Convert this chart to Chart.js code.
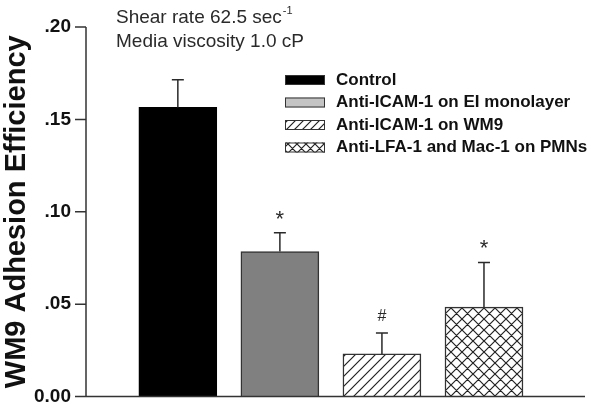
<!DOCTYPE html>
<html>
<head>
<meta charset="utf-8">
<script src="https://cdn.jsdelivr.net/npm/chart.js@4.4.1/dist/chart.umd.min.js"></script>
<style>
    html, body { margin: 0; padding: 0; background: #fff; }
    #wrap { width: 601px; height: 412px; position: relative; }
</style>
</head>
<body>
<div id="wrap"><canvas id="chart"></canvas></div>
<script>
// data
const groups = ['Control', 'Anti-ICAM-1 on EI monolayer', 'Anti-ICAM-1 on WM9', 'Anti-LFA-1 and Mac-1 on PMNs'];
const means = [0.1565, 0.0785, 0.0231, 0.0484];
const errors = [0.0150, 0.0102, 0.0113, 0.0242];
const marks = ['', '*', '#', '*'];
const yTicks = [0, 0.05, 0.10, 0.15, 0.20];

const ink = '#2a2a2a';
const font = '"Liberation Sans", Arial, sans-serif';

function makePattern(size, cross) {
    const c = document.createElement('canvas');
    c.width = size;
    c.height = size;
    const g = c.getContext('2d');
    g.fillStyle = '#fff';
    g.fillRect(0, 0, size, size);
    g.strokeStyle = '#222';
    g.lineWidth = 1.2;
    g.beginPath();
    g.moveTo(-1, size + 1); g.lineTo(size + 1, -1);
    g.moveTo(-1, 1); g.lineTo(1, -1);
    g.moveTo(size - 1, size + 1); g.lineTo(size + 1, size - 1);
    if (cross) {
        g.moveTo(-1, -1); g.lineTo(size + 1, size + 1);
        g.moveTo(size - 1, -1); g.lineTo(size + 1, 1);
        g.moveTo(-1, size - 1); g.lineTo(1, size + 1);
    }
    g.stroke();
    return g.createPattern(c, 'repeat');
}

const fills = ['#000000', '#808080', makePattern(10, false), makePattern(11, true)];
const legendFills = ['#000000', '#c4c4c4', makePattern(8, false), makePattern(9, true)];

const errorBars = {
    id: 'errorBars',
    afterDatasetsDraw(chart) {
        const ctx = chart.ctx;
        const x = chart.scales.x;
        const y = chart.scales.y;
        const meta = chart.getDatasetMeta(0);
        const left = x.getPixelForValue(x.min);
        const right = x.getPixelForValue(x.max);
        const top = y.getPixelForValue(y.max);
        const bottom = y.getPixelForValue(0);
        ctx.save();
        ctx.strokeStyle = '#333';
        ctx.lineWidth = 1.5;
        ctx.beginPath();
        ctx.moveTo(left, top);
        ctx.lineTo(left, bottom);
        ctx.lineTo(right, bottom);
        yTicks.forEach(v => {
            const py = y.getPixelForValue(v);
            ctx.moveTo(left - 11, py);
            ctx.lineTo(left, py);
        });
        ctx.stroke();

        ctx.strokeStyle = ink;
        meta.data.forEach((bar, i) => {
            const cap = y.getPixelForValue(means[i] + errors[i]);
            ctx.beginPath();
            ctx.moveTo(bar.x, bar.y);
            ctx.lineTo(bar.x, cap);
            ctx.moveTo(bar.x - 6, cap);
            ctx.lineTo(bar.x + 6, cap);
            ctx.stroke();
            if (marks[i]) {
                ctx.fillStyle = ink;
                ctx.font = (marks[i] === '*' ? '22px ' : '16px ') + font;
                ctx.textAlign = 'center';
                ctx.textBaseline = 'middle';
                ctx.fillText(marks[i], bar.x, cap - (marks[i] === '*' ? 13 : 16));
            }
        });
        ctx.restore();
    }
};

const notes = {
    id: 'notes',
    afterDraw(chart) {
        const ctx = chart.ctx;
        ctx.save();
        ctx.fillStyle = ink;
        ctx.textBaseline = 'middle';
        ctx.textAlign = 'left';
        ctx.font = '19px ' + font;
        const first = 'Shear rate 62.5 sec';
        ctx.fillText(first, 116, 18);
        const w = ctx.measureText(first).width;
        ctx.font = '11px ' + font;
        ctx.fillText('-1', 116 + w + 1, 11);
        ctx.font = '19px ' + font;
        ctx.fillText('Media viscosity 1.0 cP', 116, 42);

        // legend
        ctx.font = 'bold 17px ' + font;
        groups.forEach((name, i) => {
            const cy = 80 + i * 22.5;
            ctx.fillStyle = legendFills[i];
            ctx.fillRect(285, cy - 5, 40, 10);
            ctx.strokeStyle = '#333';
            ctx.lineWidth = 1;
            ctx.strokeRect(285.5, cy - 4.5, 39, 9);
            ctx.fillStyle = '#111';
            ctx.fillText(name, 336, cy);
        });
        ctx.restore();
    }
};

new Chart(document.getElementById('chart'), {
    type: 'bar',
    data: {
        datasets: [{
            data: means.map((v, i) => ({ x: i + 1, y: v })),
            backgroundColor: fills,
            borderColor: ['#000', '#333', '#333', '#333'],
            borderWidth: 1.5,
            barThickness: 78
        }]
    },
    options: {
        responsive: true,
        maintainAspectRatio: false,
        animation: false,
        layout: { padding: { left: 0, right: 16, top: 27, bottom: 13 } },
        plugins: {
            legend: { display: false },
            tooltip: { enabled: false }
        },
        scales: {
            x: {
                type: 'linear',
                min: 0.1,
                max: 4.99,
                offset: false,
                grid: { display: false, drawTicks: false },
                ticks: { display: false },
                border: { display: false },
                afterFit: (s) => { s.height = 0; }
            },
            y: {
                min: 0,
                max: 0.2,
                afterBuildTicks: (s) => { s.ticks = yTicks.map(v => ({ value: v })); },
                afterFit: (s) => { s.width = 86; },
                grid: { drawOnChartArea: false, drawTicks: true, tickLength: 11, color: 'rgba(0,0,0,0)' },
                border: { display: false },
                ticks: {
                    color: '#111',
                    padding: 4,
                    font: { family: font, size: 19, weight: 'bold' },
                    callback: (v) => v === 0 ? '0.00' : v.toFixed(2).replace(/^0/, '')
                },
                title: {
                    display: true,
                    text: 'WM9 Adhesion Efficiency',
                    color: '#111',
                    padding: 0,
                    font: { family: font, size: 29, weight: 'bold' }
                }
            }
        }
    },
    plugins: [errorBars, notes]
});
</script>
</body>
</html>
